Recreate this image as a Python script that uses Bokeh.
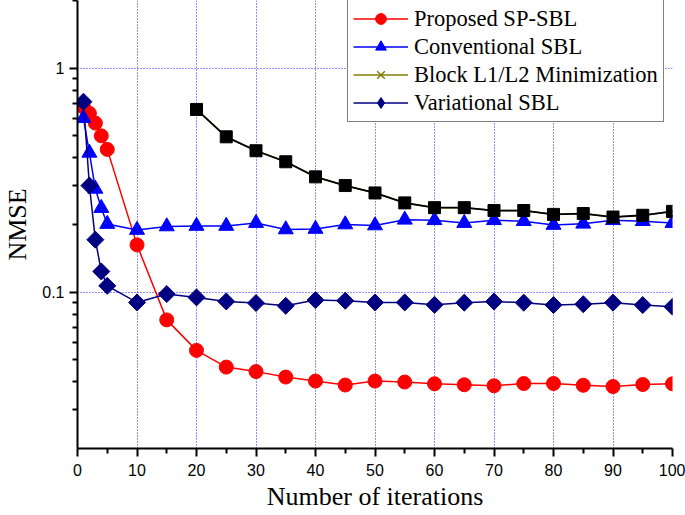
import numpy as np
from bokeh.plotting import figure
from bokeh.models import (FixedTicker, Legend, LegendItem, ColumnDataSource,
                          Range1d)
from bokeh.embed import file_html
from bokeh.resources import INLINE

# ---------------- data ----------------
iters = [1, 2, 3, 4, 5, 10, 15, 20, 25, 30, 35, 40, 45, 50, 55, 60, 65, 70,
         75, 80, 85, 90, 95, 100]
proposed_sp_sbl = [0.672, 0.63, 0.57, 0.50, 0.435, 0.163, 0.0754, 0.0551,
                   0.0464, 0.0443, 0.0419, 0.0402, 0.0386, 0.0402, 0.0398,
                   0.0391, 0.0387, 0.0383, 0.0392, 0.0392, 0.0385, 0.0380,
                   0.0388, 0.0391]
conventional_sbl = [0.60, 0.42, 0.29, 0.238, 0.202, 0.190, 0.197, 0.198,
                    0.198, 0.204, 0.191, 0.192, 0.201, 0.199, 0.211, 0.210,
                    0.204, 0.210, 0.208, 0.200, 0.2025, 0.210, 0.208, 0.204]
variational_sbl = [0.71, 0.30, 0.172, 0.124, 0.107, 0.0902, 0.0983, 0.0950,
                   0.0911, 0.0896, 0.0871, 0.0924, 0.0918, 0.0902, 0.0902,
                   0.088, 0.090, 0.091, 0.090, 0.0878, 0.0886, 0.090, 0.0878,
                   0.0863]
block_iters = [20, 25, 30, 35, 40, 45, 50, 55, 60, 65, 70, 75, 80, 85, 90,
               95, 100]
block_l1l2 = [0.656, 0.495, 0.429, 0.383, 0.328, 0.300, 0.278, 0.251, 0.239,
              0.239, 0.232, 0.232, 0.223, 0.225, 0.217, 0.221, 0.230]

x_major = [0, 10, 20, 30, 40, 50, 60, 70, 80, 90, 100]
x_minor = [5, 15, 25, 35, 45, 55, 65, 75, 85, 95]
x_grid = [10, 20, 30, 40, 50, 60, 70, 80, 90, 100]
y_major = [0.1, 1]
y_minor = [0.02, 0.03, 0.04, 0.05, 0.06, 0.07, 0.08, 0.09,
           0.2, 0.3, 0.4, 0.5, 0.6, 0.7, 0.8, 0.9, 2]

legend_labels = ["Proposed SP-SBL", "Conventional SBL",
                 "Block L1/L2 Minimization", "Variational SBL"]

SERIF = "Liberation Serif"
SANS = "Liberation Sans"

p = figure(width=685, height=515, y_axis_type="log",
           x_range=Range1d(0, 100), y_range=Range1d(0.0201, 2.01),
           output_backend="svg", toolbar_location=None,
           min_border_left=74, min_border_right=13, min_border_top=0,
           min_border_bottom=67)
p.outline_line_color = None
p.background_fill_color = "white"
p.border_fill_color = "white"

# axes
for ax in (p.xaxis[0], p.yaxis[0]):
    ax.axis_line_color = "black"
    ax.axis_line_width = 2
    ax.major_tick_line_color = "black"
    ax.major_tick_line_width = 2
    ax.minor_tick_line_color = "black"
    ax.minor_tick_line_width = 2
    ax.major_tick_in = 0
    ax.major_tick_out = 8
    ax.minor_tick_in = 0
    ax.minor_tick_out = 5
    ax.major_label_text_font = SANS
    ax.major_label_text_font_size = "16px"
    ax.major_label_text_color = "black"
    ax.axis_label_text_font = SERIF
    ax.axis_label_text_font_style = "normal"
    ax.axis_label_text_color = "black"

p.xaxis.ticker = FixedTicker(ticks=x_major, minor_ticks=x_minor)
p.yaxis.ticker = FixedTicker(ticks=y_major, minor_ticks=y_minor)
p.yaxis.major_label_overrides = {0.1: "0.1", 1: "1"}
p.xaxis.major_label_standoff = 7
p.yaxis.major_label_standoff = 5
p.xaxis.axis_label = "Number of iterations"
p.yaxis.axis_label = "NMSE"
p.xaxis.axis_label_text_font_size = "26px"
p.yaxis.axis_label_text_font_size = "26px"
p.xaxis.axis_label_standoff = 3
p.yaxis.axis_label_standoff = 7

# grid
p.xgrid.ticker = FixedTicker(ticks=x_grid)
p.ygrid.ticker = FixedTicker(ticks=y_major)
for g in (p.xgrid[0], p.ygrid[0]):
    g.grid_line_color = "#2020ff"
    g.grid_line_dash = "1 2"
    g.grid_line_width = 1
    g.grid_line_alpha = 1.0

# series
red_src = ColumnDataSource(dict(x=iters, y=proposed_sp_sbl))
blue_src = ColumnDataSource(dict(x=iters, y=conventional_sbl))
navy_src = ColumnDataSource(dict(x=iters, y=variational_sbl))
black_src = ColumnDataSource(dict(x=block_iters, y=block_l1l2))

r_red_l = p.line("x", "y", source=red_src, line_color="#ff0000", line_width=1.5)
r_red_m = p.scatter("x", "y", source=red_src, marker="circle", size=14,
                    fill_color="#ff0000", line_color="#ff0000")

r_blue_l = p.line("x", "y", source=blue_src, line_color="#0000ff", line_width=1.5)
r_blue_m = p.scatter("x", "y", source=blue_src, marker="triangle", size=15,
                     fill_color="#0000ff", line_color="#0000ff")

# Block L1/L2: legend style (olive, x) underneath, black squares on top
r_olive_l = p.line("x", "y", source=black_src, line_color="#808000", line_width=1.5)
r_olive_m = p.scatter("x", "y", source=black_src, marker="x", size=9,
                      line_color="#808000", line_width=1.5)
r_black_l = p.line("x", "y", source=black_src, line_color="black", line_width=1.8)
r_black_m = p.scatter("x", "y", source=black_src, marker="square", size=12,
                      fill_color="black", line_color="black")

r_navy_l = p.line("x", "y", source=navy_src, line_color="#000080", line_width=1.5)
# diamond used for the legend symbol, hidden below the rotated squares
r_navy_d = p.scatter("x", "y", source=navy_src, marker="diamond", size=15,
                     fill_color="#000080", line_color="#000080")
r_navy_m = p.scatter("x", "y", source=navy_src, marker="square", size=12,
                     angle=np.pi / 4, fill_color="#000080",
                     line_color="#000080")

legend = Legend(items=[
    LegendItem(label=legend_labels[0], renderers=[r_red_l, r_red_m]),
    LegendItem(label=legend_labels[1], renderers=[r_blue_l, r_blue_m]),
    LegendItem(label=legend_labels[2], renderers=[r_olive_l, r_olive_m]),
    LegendItem(label=legend_labels[3], renderers=[r_navy_l, r_navy_d]),
], location=(270, 326))
legend.label_text_font = SERIF
legend.label_text_font_size = "22.5px"
legend.label_text_color = "black"
legend.glyph_width = 55
legend.glyph_height = 27
legend.label_height = 27
legend.label_width = 244
legend.label_standoff = 6
legend.spacing = 1
legend.padding = 5
legend.margin = 0
legend.border_line_color = "black"
legend.border_line_width = 1.5
legend.background_fill_color = "white"
legend.background_fill_alpha = 1
p.add_layout(legend, "center")

open("out.html", "w").write(file_html(p, INLINE))
